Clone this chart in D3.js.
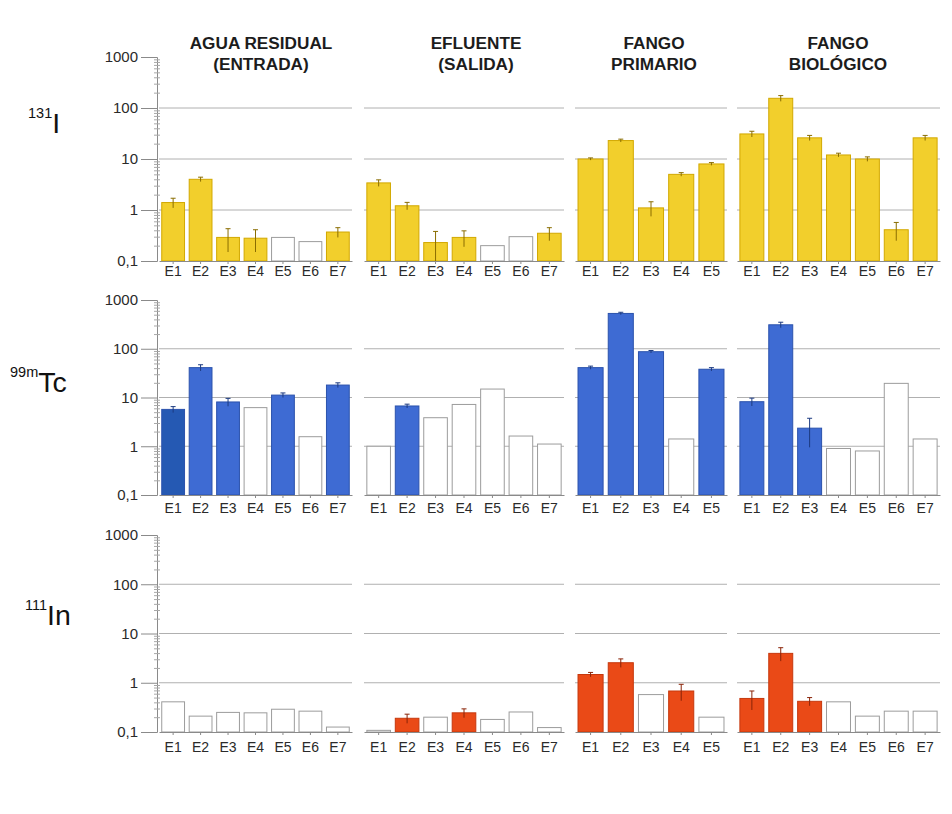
<!DOCTYPE html>
<html>
<head>
<meta charset="utf-8">
<script src="https://cdn.jsdelivr.net/npm/d3@7"></script>
<style>
  html, body { margin: 0; padding: 0; background: #fff; }
  svg { display: block; font-family: "Liberation Sans", Arial, sans-serif; }
</style>
</head>
<body>
<div id="chart"></div>
<script>
// ---- Data -------------------------------------------------------------
const panelTitles = [
  ["AGUA RESIDUAL", "(ENTRADA)"],
  ["EFLUENTE", "(SALIDA)"],
  ["FANGO", "PRIMARIO"],
  ["FANGO", "BIOLÓGICO"]
];
const stationsSeven = ["E1", "E2", "E3", "E4", "E5", "E6", "E7"];
const stationsFive = ["E1", "E2", "E3", "E4", "E5"];
const panelStations = [stationsSeven, stationsSeven, stationsFive, stationsSeven];

const yTickValues = [0.1, 1, 10, 100, 1000];
const yTickLabels = ["0,1", "1", "10", "100", "1000"];
const gridValues = [1, 10, 100];

const isotopeMass = ["131", "99m", "111"];
const isotopeSymbol = ["I", "Tc", "In"];

// 131-I  (one array per panel: agua residual, efluente, fango primario, fango biológico)
const iodineValues = [
  [1.4, 4.0, 0.29, 0.28, 0.29, 0.24, 0.37],
  [3.4, 1.21, 0.23, 0.29, 0.2, 0.3, 0.35],
  [10, 23, 1.1, 5.0, 8.0],
  [31, 155, 26, 12, 10, 0.41, 26]
];
const iodineErrors = [
  [0.3, 0.4, 0.14, 0.13, 0, 0, 0.08],
  [0.5, 0.2, 0.15, 0.1, 0, 0, 0.1],
  [0.5, 1.5, 0.35, 0.4, 0.5],
  [4, 20, 3, 1, 1, 0.16, 3]
];
const iodineDetected = [
  [1, 1, 1, 1, 0, 0, 1],
  [1, 1, 1, 1, 0, 0, 1],
  [1, 1, 1, 1, 1],
  [1, 1, 1, 1, 1, 1, 1]
];

// 99m-Tc
const technetiumValues = [
  [5.7, 41, 8.1, 6.2, 11.2, 1.57, 18],
  [1.0, 6.7, 3.85, 7.2, 14.9, 1.62, 1.11],
  [41, 530, 87, 1.41, 38],
  [8.2, 310, 2.35, 0.9, 0.8, 19.5, 1.41]
];
const technetiumErrors = [
  [0.8, 6, 1.5, 0, 1.2, 0, 2],
  [0, 0.6, 0, 0, 0, 0, 0],
  [3, 30, 5, 0, 3],
  [1.5, 40, 1.4, 0, 0, 0, 0]
];
const technetiumDetected = [
  [1, 1, 1, 0, 1, 0, 1],
  [0, 1, 0, 0, 0, 0, 0],
  [1, 1, 1, 0, 1],
  [1, 1, 1, 0, 0, 0, 0]
];

// 111-In
const indiumValues = [
  [0.41, 0.21, 0.25, 0.245, 0.29, 0.265, 0.126],
  [0.108, 0.19, 0.2, 0.245, 0.18, 0.255, 0.123],
  [1.47, 2.55, 0.575, 0.68, 0.2],
  [0.48, 3.95, 0.42, 0.41, 0.21, 0.265, 0.265]
];
const indiumErrors = [
  [0, 0, 0, 0, 0, 0, 0],
  [0, 0.04, 0, 0.05, 0, 0, 0],
  [0.15, 0.5, 0, 0.25, 0],
  [0.2, 1.2, 0.08, 0, 0, 0, 0]
];
const indiumDetected = [
  [0, 0, 0, 0, 0, 0, 0],
  [0, 1, 0, 1, 0, 0, 0],
  [1, 1, 0, 1, 0],
  [1, 1, 1, 0, 0, 0, 0]
];

// ---- Layout & style ---------------------------------------------------
const layout = {
  width: 952, height: 814,
  panelX: [[159, 352], [364, 564], [575, 727], [737, 940]],
  rowY: [[261, 57], [495, 300], [732, 535]],
  labelPad: [2.5, 5.5, 7],
  axisX: 157,
  titleX: [261, 476, 654, 838],
  titleBaselines: [48.5, 70],
  rowLabelX: [28, 10, 25],
  rowLabelBaseline: [132.5, 391.5, 625]
};

const palettes = [
  { fill: "#f2cf2c", stroke: "#d2a800", err: "#8a6d00" },
  { fill: "#3e6bd3", stroke: "#2b52ac", err: "#1c3a80" },
  { fill: "#ea4a17", stroke: "#c6380d", err: "#8a2408" }
];
// a slightly deeper shade used on one bar of the 99mTc influent panel
const shadeOverrides = { "1-0-0": "#2559b3" };

const rows = [
  { values: iodineValues, errors: iodineErrors, detected: iodineDetected },
  { values: technetiumValues, errors: technetiumErrors, detected: technetiumDetected },
  { values: indiumValues, errors: indiumErrors, detected: indiumDetected }
];

// ---- Drawing ----------------------------------------------------------
const svg = d3.select("#chart").append("svg")
  .attr("width", layout.width)
  .attr("height", layout.height);

// column titles
panelTitles.forEach((lines, p) => {
  lines.forEach((line, k) => {
    svg.append("text")
      .attr("x", layout.titleX[p])
      .attr("y", layout.titleBaselines[k])
      .attr("text-anchor", "middle")
      .attr("font-size", 17.2)
      .attr("font-weight", "bold")
      .attr("fill", "#1c1c1c")
      .text(line);
  });
});

// minor tick values for the log axis (2..9 within each decade)
const minorTicks = [];
yTickValues.slice(0, -1).forEach(d => {
  for (let k = 2; k <= 9; k++) minorTicks.push(d * k);
});

rows.forEach((row, r) => {
  const y = d3.scaleLog().domain([0.1, 1000]).range(layout.rowY[r]);
  const pal = palettes[r];

  // isotope label
  const lbl = svg.append("text")
    .attr("x", layout.rowLabelX[r])
    .attr("y", layout.rowLabelBaseline[r])
    .attr("fill", "#111");
  lbl.append("tspan")
    .attr("font-size", 14.5)
    .attr("dy", -15)
    .text(isotopeMass[r]);
  lbl.append("tspan")
    .attr("font-size", 28.5)
    .attr("dy", 15)
    .text(isotopeSymbol[r]);

  // y axis on the first column only
  const yAxis = svg.append("g")
    .attr("transform", `translate(${layout.axisX},0)`)
    .call(d3.axisLeft(y)
      .tickValues(yTickValues)
      .tickFormat((d, i) => yTickLabels[i])
      .tickSize(16)
      .tickPadding(3));
  yAxis.select(".domain").attr("stroke", "#8a8a8a");
  yAxis.selectAll(".tick line").attr("stroke", "#8a8a8a");
  yAxis.selectAll(".tick text")
    .attr("font-size", 15)
    .attr("font-family", "'Liberation Sans', Arial, sans-serif")
    .attr("fill", "#2a2a2a");

  const yMinor = svg.append("g")
    .attr("transform", `translate(${layout.axisX + 3},0)`)
    .call(d3.axisLeft(y).tickValues(minorTicks).tickSize(6).tickFormat(""));
  yMinor.select(".domain").remove();
  yMinor.selectAll(".tick line").attr("stroke", "#a8a8a8");

  panelStations.forEach((stations, p) => {
    const x = d3.scaleBand()
      .domain(stations)
      .range(layout.panelX[p])
      .paddingInner(0.17)
      .paddingOuter(0.1);

    const g = svg.append("g");

    // gridlines
    g.selectAll("line.grid")
      .data(gridValues)
      .join("line")
      .attr("class", "grid")
      .attr("x1", layout.panelX[p][0])
      .attr("x2", layout.panelX[p][1])
      .attr("y1", d => y(d))
      .attr("y2", d => y(d))
      .attr("stroke", "#b0b0b0")
      .attr("stroke-width", 1);

    const bars = stations.map((s, i) => ({
      station: s,
      value: row.values[p][i],
      err: row.errors[p][i],
      filled: row.detected[p][i] === 1,
      key: `${r}-${p}-${i}`
    }));

    // bars
    g.selectAll("rect.bar")
      .data(bars)
      .join("rect")
      .attr("class", "bar")
      .attr("x", d => x(d.station))
      .attr("width", x.bandwidth())
      .attr("y", d => y(d.value))
      .attr("height", d => y(0.1) - y(d.value))
      .attr("fill", d => d.filled ? (shadeOverrides[d.key] || pal.fill) : "#ffffff")
      .attr("stroke", d => d.filled ? pal.stroke : "#9c9c9c")
      .attr("stroke-width", 1);

    // error bars
    const eb = bars.filter(d => d.err > 0);
    const cx = d => x(d.station) + x.bandwidth() / 2;
    g.selectAll("line.err")
      .data(eb)
      .join("line")
      .attr("class", "err")
      .attr("x1", cx).attr("x2", cx)
      .attr("y1", d => y(d.value + d.err))
      .attr("y2", d => y(Math.max(d.value - d.err, 0.1)))
      .attr("stroke", pal.err)
      .attr("stroke-width", 1);
    g.selectAll("line.cap")
      .data(eb)
      .join("line")
      .attr("class", "cap")
      .attr("x1", d => cx(d) - 2.5).attr("x2", d => cx(d) + 2.5)
      .attr("y1", d => y(d.value + d.err))
      .attr("y2", d => y(d.value + d.err))
      .attr("stroke", pal.err)
      .attr("stroke-width", 1);

    // category axis
    const xAxis = svg.append("g")
      .attr("transform", `translate(0,${y(0.1)})`)
      .call(d3.axisBottom(x).tickSize(3).tickSizeOuter(0).tickPadding(layout.labelPad[r]));
    xAxis.select(".domain").attr("stroke", "#8a8a8a");
    xAxis.selectAll(".tick line").attr("stroke", "#8a8a8a");
    xAxis.selectAll(".tick text")
      .attr("font-size", 14)
      .attr("font-family", "'Liberation Sans', Arial, sans-serif")
      .attr("fill", "#2a2a2a");
  });
});
</script>
</body>
</html>
